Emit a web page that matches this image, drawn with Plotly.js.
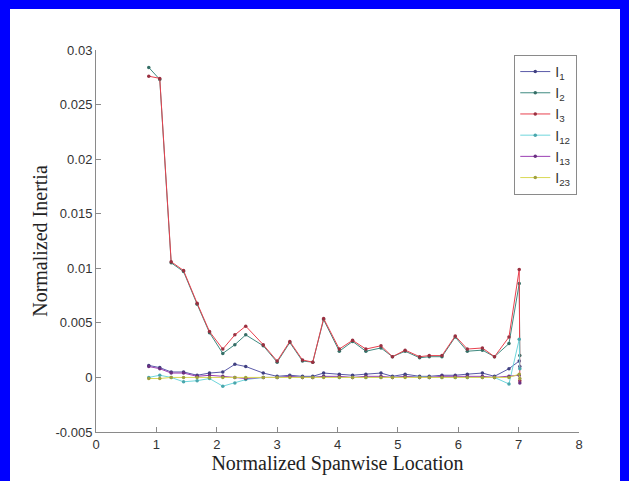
<!DOCTYPE html>
<html>
<head>
<meta charset="utf-8">
<script src="https://cdn.plot.ly/plotly-3.0.1.min.js"></script>
<style>
  html, body { margin: 0; padding: 0; background: #ffffff; }
  #wrap { position: relative; width: 629px; height: 481px; overflow: hidden; }
  #chart { position: absolute; left: 0; top: 0; width: 629px; height: 481px; }
  #frame { position: absolute; left: 0px; top: 0px; width: 610px; height: 500px;
           border-left: 10px solid #0000ff; border-top: 9px solid #0000ff; border-right: 9px solid #0000ff;
           pointer-events: none; }
</style>
</head>
<body>
<div id="wrap">
  <div id="chart"></div>
  <div id="frame"></div>
</div>
<script>
// Spanwise stations (normalized)
const spanX = [0.874, 1.056, 1.245, 1.45, 1.675, 1.88, 2.10, 2.30, 2.48, 2.77, 3.00, 3.21, 3.42, 3.59, 3.77,
               4.03, 4.25, 4.47, 4.72, 4.91, 5.12, 5.36, 5.52, 5.73, 5.95, 6.15, 6.40, 6.60, 6.84, 7.01, 7.02];

const I1  = [0.0011, 0.0009, 0.0005, 0.0005, 0.0002, 0.0004, 0.0005, 0.0012, 0.0010, 0.0004, 0.0001, 0.0002, 0.0001, 0.0001, 0.0004,
             0.0003, 0.0002, 0.0003, 0.0004, 0.0001, 0.0003, 0.0001, 0.0001, 0.0002, 0.0002, 0.0003, 0.0004, 0.0001, 0.0008, 0.0015, 0.0010];
const I2  = [0.0284, 0.0273, 0.0105, 0.0097, 0.0067, 0.0041, 0.0022, 0.0030, 0.0039, 0.0029, 0.0014, 0.0032, 0.0015, 0.0014, 0.0053,
             0.0024, 0.0033, 0.0024, 0.0027, 0.0019, 0.0024, 0.0018, 0.0019, 0.0019, 0.0037, 0.0024, 0.0025, 0.0019, 0.0031, 0.0086, 0.0020];
const I3  = [0.0276, 0.0274, 0.0106, 0.0098, 0.0068, 0.0042, 0.0026, 0.0039, 0.0047, 0.0030, 0.0015, 0.0033, 0.0016, 0.0014, 0.0054,
             0.0026, 0.0034, 0.0026, 0.0029, 0.0019, 0.0025, 0.0019, 0.0020, 0.0020, 0.0038, 0.0026, 0.0027, 0.0019, 0.0037, 0.0099, -0.0003];
const I12 = [0.0000, 0.0002, 0.0000, -0.0004, -0.0003, -0.0001, -0.0008, -0.0005, -0.0002, 0.0000, 0.0000, 0.0001, 0.0000, 0.0000, 0.0001,
             0.0000, 0.0000, 0.0000, 0.0000, 0.0000, 0.0001, 0.0000, 0.0000, 0.0000, 0.0000, 0.0000, 0.0000, 0.0000, -0.0006, 0.0035, 0.0008];
const I13 = [0.0010, 0.0008, 0.0004, 0.0004, 0.0001, 0.0002, 0.0001, 0.0000, -0.0001, 0.0000, 0.0000, 0.0001, 0.0000, 0.0000, 0.0001,
             0.0001, 0.0000, 0.0001, 0.0001, 0.0000, 0.0001, 0.0000, 0.0000, 0.0001, 0.0001, 0.0001, 0.0001, 0.0000, 0.0001, 0.0002, -0.0005];
const I23 = [-0.0001, -0.0001, 0.0000, 0.0000, 0.0000, 0.0000, 0.0000, 0.0000, 0.0000, 0.0000, 0.0000, 0.0000, 0.0000, 0.0000, 0.0000,
             0.0000, 0.0000, 0.0000, 0.0000, 0.0000, 0.0000, 0.0000, 0.0000, 0.0000, 0.0000, 0.0000, 0.0000, 0.0000, 0.0000, 0.0003, -0.0001];

const seriesNames = ['I<sub>1</sub>', 'I<sub>2</sub>', 'I<sub>3</sub>', 'I<sub>12</sub>', 'I<sub>13</sub>', 'I<sub>23</sub>'];
const seriesData = [I1, I2, I3, I12, I13, I23];
const lineColors = ['#5a5aa8', '#3f8a80', '#e8404e', '#6fd6dc', '#9b3fb3', '#d9d955'];
const markerColors = ['#404080', '#356e66', '#9a3040', '#4aa6ac', '#6a3080', '#a0a040'];

const xTicks = [0, 1, 2, 3, 4, 5, 6, 7, 8];
const yTicks = [-0.005, 0, 0.005, 0.01, 0.015, 0.02, 0.025, 0.03];
const yTickText = ['-0.005', '0', '0.005', '0.01', '0.015', '0.02', '0.025', '0.03'];

const traces = seriesData.map((ys, i) => ({
  type: 'scatter',
  mode: 'lines+markers',
  x: spanX,
  y: ys,
  name: seriesNames[i],
  line: { color: lineColors[i], width: 1 },
  marker: { color: markerColors[i], size: 3.5, symbol: 'circle' }
}));

const axisCommon = {
  showgrid: false,
  zeroline: false,
  showline: true,
  linecolor: '#8a8a8a',
  linewidth: 1,
  ticks: 'inside',
  ticklen: 5,
  tickcolor: '#8a8a8a',
  tickfont: { family: 'Liberation Sans, Arial, sans-serif', size: 13, color: '#333333' },
  mirror: false
};

const layout = {
  width: 629,
  height: 481,
  paper_bgcolor: '#ffffff',
  plot_bgcolor: '#ffffff',
  margin: { l: 96, r: 50, t: 50, b: 49 },
  showlegend: true,
  legend: {
    x: 0.866, y: 0.987, xanchor: 'left', yanchor: 'top',
    bgcolor: '#ffffff', bordercolor: '#8a8a8a', borderwidth: 1,
    font: { family: 'Liberation Sans, Arial, sans-serif', size: 14, color: '#333333' },
    itemwidth: 30,
    tracegroupgap: 0
  },
  xaxis: Object.assign({}, axisCommon, {
    range: [0, 8],
    tickmode: 'array',
    tickvals: xTicks,
    ticktext: xTicks.map(String),
    title: { text: 'Normalized Spanwise Location', standoff: 2,
             font: { family: 'Liberation Serif, Times New Roman, serif', size: 20, color: '#222222' } }
  }),
  yaxis: Object.assign({}, axisCommon, {
    range: [-0.005, 0.03],
    tickmode: 'array',
    tickvals: yTicks,
    ticktext: yTickText,
    title: { text: 'Normalized Inertia', standoff: 2,
             font: { family: 'Liberation Serif, Times New Roman, serif', size: 20, color: '#222222' } }
  })
};

Plotly.newPlot('chart', traces, layout, { displayModeBar: false, staticPlot: true });
</script>
</body>
</html>
